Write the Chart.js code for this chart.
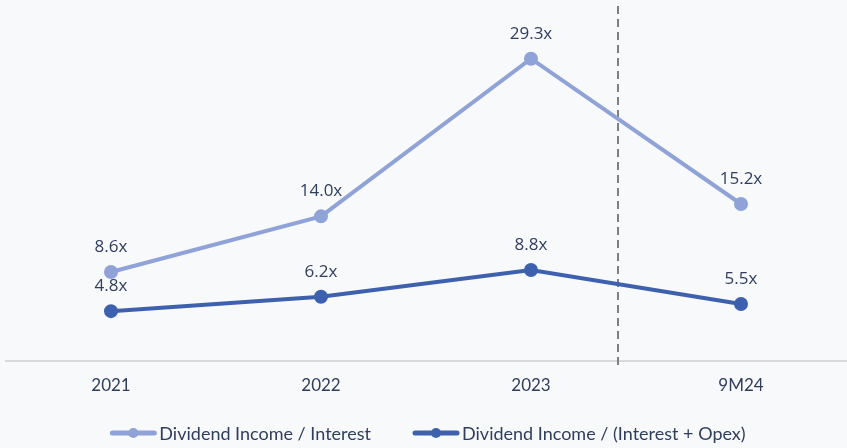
<!DOCTYPE html>
<html>
<head>
<meta charset="utf-8">
<script src="https://cdn.jsdelivr.net/npm/chart.js@4.4.1/dist/chart.umd.min.js"></script>
<style>
    html, body { margin: 0; padding: 0; background: #f8f9fa; }
    #wrap { width: 847px; height: 448px; }
</style>
</head>
<body>
<div id="wrap"><canvas id="coverChart"></canvas></div>
<script>
const categories = ["2021", "2022", "2023", "9M24"];
const seriesNames = ["Dividend Income / Interest", "Dividend Income / (Interest + Opex)"];
const divOverInterest = [8.6, 14.0, 29.3, 15.2];
const divOverInterestOpex = [4.8, 6.2, 8.8, 5.5];

const lightBlue = "#8fa3d8";
const darkBlue = "#3d61ae";
const textColor = "#2f3d5e";

// value labels above each point
const valueLabels = {
    id: "valueLabels",
    afterDatasetsDraw(chart) {
        const ctx = chart.ctx;
        ctx.save();
        ctx.font = "17px 'Open Sans'";
        ctx.fillStyle = textColor;
        ctx.textAlign = "center";
        ctx.textBaseline = "middle";
        chart.data.datasets.forEach((ds, i) => {
            chart.getDatasetMeta(i).data.forEach((pt, j) => {
                ctx.fillText(ds.data[j].toFixed(1) + "x", pt.x, pt.y - 25);
            });
        });
        ctx.restore();
    }
};

// dashed separator between actuals and 9M24
const separator = {
    id: "separator",
    beforeDatasetsDraw(chart) {
        const x = chart.scales.x;
        const a = x.getPixelForValue(2), b = x.getPixelForValue(3);
        const px = Math.round(a + (b - a) * 0.414);
        const ctx = chart.ctx;
        ctx.save();
        ctx.strokeStyle = "#7f7f7f";
        ctx.lineWidth = 2;
        ctx.setLineDash([8, 5]);
        ctx.beginPath();
        ctx.moveTo(px, 6);
        ctx.lineTo(px, chart.chartArea.bottom + 7);
        ctx.stroke();
        ctx.restore();
    }
};

// legend at the bottom: line + dot marker, then the series name
const lineLegend = {
    id: "lineLegend",
    afterDraw(chart) {
        const ctx = chart.ctx;
        const y = 433, markW = 46, textGap = 3, itemGap = 42;
        ctx.save();
        ctx.font = "18px Lato";
        ctx.textBaseline = "middle";
        ctx.textAlign = "left";
        const items = chart.data.datasets.map(ds => ({
            ds, w: ctx.measureText(ds.label).width
        }));
        let total = 0;
        items.forEach((it, i) => { total += markW + textGap + it.w + (i ? itemGap : 0); });
        let x = 428 - total / 2;
        items.forEach((it, i) => {
            if (i) x += itemGap;
            const c = it.ds.borderColor;
            ctx.strokeStyle = c;
            ctx.fillStyle = c;
            ctx.lineWidth = 5;
            ctx.lineCap = "round";
            ctx.beginPath(); ctx.moveTo(x + 2, y); ctx.lineTo(x + markW - 2, y); ctx.stroke();
            ctx.beginPath(); ctx.arc(x + markW / 2, y, 5, 0, Math.PI * 2); ctx.fill();
            x += markW + textGap;
            ctx.fillStyle = textColor;
            ctx.fillText(it.ds.label, x, y + 1);
            x += it.w;
        });
        ctx.restore();
    }
};

const ctx = document.getElementById("coverChart").getContext("2d");

new Chart(ctx, {
    type: "line",
    data: {
        labels: categories,
        datasets: [
            {
                label: seriesNames[0],
                data: divOverInterest,
                borderColor: lightBlue,
                backgroundColor: lightBlue,
                borderWidth: 4,
                pointRadius: 5,
                pointHoverRadius: 5,
                tension: 0,
                clip: false
            },
            {
                label: seriesNames[1],
                data: divOverInterestOpex,
                borderColor: darkBlue,
                backgroundColor: darkBlue,
                borderWidth: 4,
                pointRadius: 5,
                pointHoverRadius: 5,
                tension: 0,
                clip: false
            }
        ]
    },
    options: {
        responsive: true,
        maintainAspectRatio: false,
        animation: false,
        layout: { autoPadding: false, padding: { left: 6, right: 1, top: 0, bottom: 37 } },
        plugins: {
            tooltip: { enabled: false },
            legend: { display: false }
        },
        scales: {
            x: {
                offset: true,
                grid: { display: false, drawTicks: false },
                border: { display: true, color: "#d9d9d9", width: 2 },
                ticks: {
                    color: textColor,
                    font: { family: "Lato", size: 17 },
                    padding: 15
                }
            },
            y: {
                display: false,
                min: 0,
                max: 35
            }
        }
    },
    plugins: [separator, valueLabels, lineLegend]
});
</script>
</body>
</html>
